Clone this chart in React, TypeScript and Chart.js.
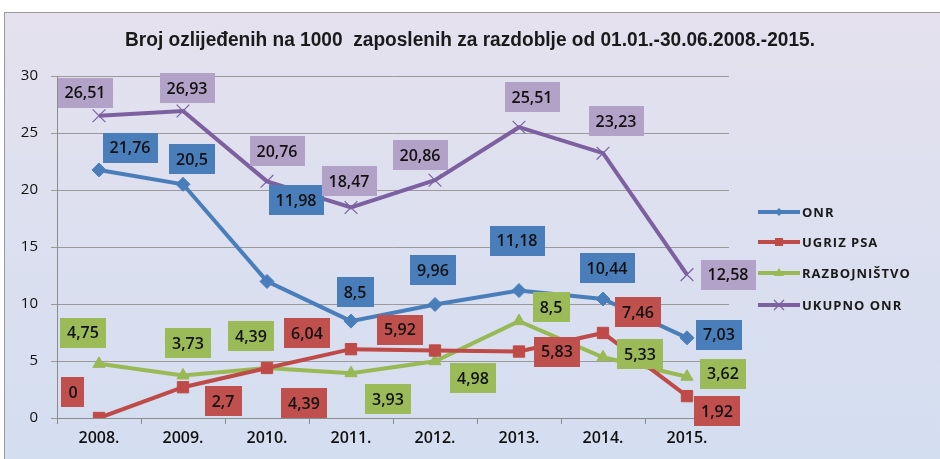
import React, { useEffect, useRef } from "react";
import { Chart, registerables } from "chart.js";

Chart.register(...registerables);

const TITLE = "Broj ozlijeđenih na 1000  zaposlenih za razdoblje od 01.01.-30.06.2008.-2015.";
const CATEGORIES = ["2008.", "2009.", "2010.", "2011.", "2012.", "2013.", "2014.", "2015."];
const SERIES_NAMES = ["ONR", "UGRIZ PSA", "RAZBOJNIŠTVO", "UKUPNO ONR"];
const ONR = [21.76, 20.5, 11.98, 8.5, 9.96, 11.18, 10.44, 7.03];
const UGRIZ_PSA = [0, 2.7, 4.39, 6.04, 5.92, 5.83, 7.46, 1.92];
const RAZBOJNISTVO = [4.75, 3.73, 4.39, 3.93, 4.98, 8.5, 5.33, 3.62];
const UKUPNO_ONR = [26.51, 26.93, 20.76, 18.47, 20.86, 25.51, 23.23, 12.58];
const Y_TICKS = [0, 5, 10, 15, 20, 25, 30];

// label box offsets (pixels) relative to each point
const LABEL_OFFSETS: number[][][] = [
  [[31, -22], [9, -25], [29, -81], [4, -29], [-2, -34], [-2, -50], [4, -31], [32, -3]],
  [[-26, -26], [40, 14], [37, 35], [-44, -16], [-35, -21], [38, 0], [35, -21], [30, 15]],
  [[-16, -31], [5, -32], [-16, -32], [37, 26], [38, 17], [32, -14], [37, -3], [36, -3]],
  [[-14, -23], [4, -23], [10, -30], [-2, -26], [-15, -25], [13, -30], [13, -32], [41, 0]],
];

const COLORS = ["#4a7ebb", "#be4b48", "#98b954", "#7d60a0"];
const BOX_COLORS = ["#4a7ebb", "#c0504d", "#9bbb59", "#b3a2c7"];
const POINT_STYLES = ["rectRot", "rect", "triangle", "crossRot"];
const POINT_RADII = [7, 8, 7, 9];

const fmt = (v: number) => String(v).replace(".", ",");

const bgPlugin = {
  id: "bg",
  beforeDraw(chart: any) {
    const { ctx, width, height } = chart;
    ctx.save();
    ctx.fillStyle = "#ffffff";
    ctx.fillRect(0, 0, width, height);
    const g = ctx.createLinearGradient(0, 12, 0, height);
    g.addColorStop(0, "#e5e1ee");
    g.addColorStop(1, "#d3def0");
    ctx.fillStyle = g;
    ctx.fillRect(4, 12, width - 4, height - 12);
    ctx.strokeStyle = "#9a9a9a";
    ctx.lineWidth = 1;
    ctx.strokeRect(4.5, 12.5, width, height);
    ctx.restore();
  },
};

const labelPlugin = {
  id: "boxLabels",
  afterDatasetsDraw(chart: any) {
    const { ctx } = chart;
    ctx.save();
    ctx.font = "600 16px 'Open Sans'";
    ctx.textAlign = "center";
    ctx.textBaseline = "middle";
    chart.data.datasets.forEach((ds: any, i: number) => {
      const meta = chart.getDatasetMeta(i);
      meta.data.forEach((pt: any, j: number) => {
        const txt = fmt(ds.data[j]);
        const [dx, dy] = LABEL_OFFSETS[i][j];
        const cx = pt.x + dx;
        const cy = pt.y + dy;
        const w = ctx.measureText(txt).width + 14;
        const h = 30;
        ctx.fillStyle = BOX_COLORS[i];
        ctx.fillRect(Math.round(cx - w / 2), Math.round(cy - h / 2), Math.round(w), h);
        ctx.fillStyle = "#111111";
        ctx.fillText(txt, cx, cy + 1);
      });
    });
    ctx.restore();
  },
};

const titleLegendPlugin = {
  id: "titleLegend",
  afterDraw(chart: any) {
    const { ctx } = chart;
    ctx.save();
    ctx.fillStyle = "#1a1a1a";
    ctx.font = "bold 20px 'Liberation Sans', sans-serif";
    ctx.textAlign = "center";
    ctx.textBaseline = "middle";
    const tw = ctx.measureText(TITLE).width;
    const sx = 690 / tw;
    ctx.save();
    ctx.translate(470, 40);
    ctx.scale(sx, 1);
    ctx.fillText(TITLE, 0, 0);
    ctx.restore();

    const ys = [212, 242, 273, 305];
    ctx.textAlign = "left";
    ctx.font = "bold 13px 'Open Sans'";
    (ctx as any).letterSpacing = "1px";
    SERIES_NAMES.forEach((name, i) => {
      const y = ys[i];
      ctx.strokeStyle = COLORS[i];
      ctx.lineWidth = 4;
      ctx.beginPath();
      ctx.moveTo(758, y);
      ctx.lineTo(800, y);
      ctx.stroke();
      const style = POINT_STYLES[i];
      ctx.fillStyle = COLORS[i];
      ctx.lineWidth = 1.2;
      if (style === "rectRot") {
        ctx.beginPath();
        ctx.moveTo(779, y - 4); ctx.lineTo(783, y); ctx.lineTo(779, y + 4); ctx.lineTo(775, y); ctx.closePath(); ctx.fill();
      } else if (style === "rect") {
        ctx.fillRect(775, y - 4, 8, 8);
      } else if (style === "triangle") {
        ctx.beginPath();
        ctx.moveTo(779, y - 5); ctx.lineTo(784, y + 3); ctx.lineTo(774, y + 3); ctx.closePath(); ctx.fill();
      } else {
        ctx.beginPath();
        ctx.moveTo(774, y - 5); ctx.lineTo(784, y + 5); ctx.moveTo(784, y - 5); ctx.lineTo(774, y + 5); ctx.stroke();
      }
      ctx.fillStyle = "#1a1a1a";
      ctx.fillText(name, 802, y + 1);
    });
    ctx.restore();
  },
};

export default function App() {
  const ref = useRef<HTMLCanvasElement | null>(null);
  useEffect(() => {
    if (!ref.current) return;
    const series = [ONR, UGRIZ_PSA, RAZBOJNISTVO, UKUPNO_ONR];
    const chart = new Chart(ref.current, {
      type: "line",
      data: {
        labels: CATEGORIES,
        datasets: series.map((d, i) => ({
          label: SERIES_NAMES[i],
          data: d,
          borderColor: COLORS[i],
          backgroundColor: COLORS[i],
          borderWidth: 4,
          pointStyle: POINT_STYLES[i] as any,
          pointRadius: POINT_RADII[i],
          pointBorderWidth: i === 3 ? 1.2 : 1,
          pointBackgroundColor: COLORS[i],
          pointBorderColor: COLORS[i],
          tension: 0,
        })),
      },
      options: {
        animation: false,
        responsive: false,
        devicePixelRatio: 1,
        layout: { padding: { top: 76, right: 211, left: 0, bottom: 0 } },
        plugins: { legend: { display: false }, title: { display: false }, tooltip: { enabled: false } },
        scales: {
          x: {
            offset: true,
            grid: { offset: true, drawOnChartArea: false, color: "#8c8c8c", tickLength: 6 },
            border: { color: "#8c8c8c" },
            ticks: { color: "#111", font: { family: "'Open Sans'", size: 16, weight: "600" }, padding: 5 },
            afterFit(s: any) { s.height = 41; },
          },
          y: {
            min: 0,
            max: 30,
            afterBuildTicks(s: any) { s.ticks = Y_TICKS.map((v) => ({ value: v })); },
            grid: { color: "#9a9a9a", tickLength: 6 },
            border: { color: "#8c8c8c" },
            ticks: { color: "#111", font: { family: "'Open Sans'", size: 15 }, padding: 13 },
            afterFit(s: any) { s.width = 57; },
          },
        },
      },
      plugins: [bgPlugin, labelPlugin, titleLegendPlugin],
    } as any);
    return () => chart.destroy();
  }, []);
  return (
    <div style={{ position: "fixed", left: 0, top: 0, width: 940, height: 459 }}>
      <canvas ref={ref} width={940} height={459} style={{ width: 940, height: 459, display: "block" }} />
    </div>
  );
}
